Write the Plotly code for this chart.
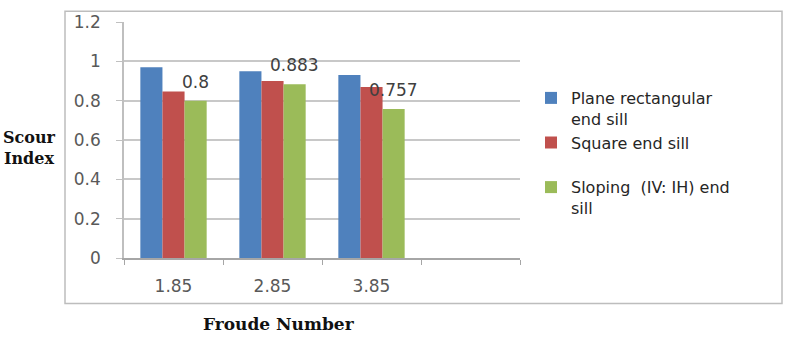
import plotly.graph_objects as go

categories = ["1.85", "2.85", "3.85", " "]
series_names = ["Plane rectangular<br>end sill", "Square end sill<br> ", "Sloping  (IV: IH) end<br>sill"]
plane_vals = [0.97, 0.95, 0.93]
square_vals = [0.847, 0.90, 0.87]
sloping_vals = [0.80, 0.883, 0.757]
sloping_labels = ["0.8", "0.883", "0.757"]
colors = ["#4F81BD", "#C0504D", "#9BBB59"]
y_ticks = [0, 0.2, 0.4, 0.6, 0.8, 1, 1.2]
y_tick_text = ["0", "0.2", "0.4", "0.6", "0.8", "1", "1.2"]

tick_font = dict(family="DejaVu Sans", size=17, color="#595959")

fig = go.Figure()
fig.add_trace(go.Bar(x=categories[:3], y=plane_vals, name=series_names[0],
                     marker=dict(color=colors[0], line=dict(width=0))))
fig.add_trace(go.Bar(x=categories[:3], y=square_vals, name=series_names[1],
                     marker=dict(color=colors[1], line=dict(width=0))))
fig.add_trace(go.Bar(x=categories[:3], y=sloping_vals, name=series_names[2],
                     marker=dict(color=colors[2], line=dict(width=0))))

W, H = 788, 342
L, R, T, B = 124, 268, 14, 84
pw, ph = W - L - R, H - T - B
BARGAP = 0.33

def px_x(x):
    return (x - L) / pw

def px_y(y):
    return 1 - (y - T) / ph

# data labels on the sloping series, centred over the third bar of each group
group_w = 1 - BARGAP
bar_w = group_w / 3
label_anns = []
for i, (v, t) in enumerate(zip(sloping_vals, sloping_labels)):
    label_anns.append(dict(
        text=t, xref="x", yref="y", x=i + bar_w, y=v,
        xanchor="center", yanchor="bottom", showarrow=False, yshift=7,
        font=dict(family="DejaVu Sans", size=17, color="#404040")))

fig.update_layout(
    width=W, height=H,
    margin=dict(l=L, r=R, t=T, b=B, pad=0),
    paper_bgcolor="white", plot_bgcolor="white",
    barmode="group", bargap=BARGAP, bargroupgap=0,
    showlegend=True,
    legend=dict(x=px_x(531), y=px_y(75), xanchor="left", yanchor="top",
                valign="top", font=dict(family="DejaVu Sans", size=16, color="#262626"),
                tracegroupgap=0, itemwidth=30, bgcolor="rgba(0,0,0,0)"),
    xaxis=dict(type="category", categoryorder="array", categoryarray=categories,
               range=[-0.5, 3.5], tickson="boundaries", ticks="outside", ticklen=5,
               tickcolor="#A6A6A6", showline=True, linecolor="#A6A6A6", linewidth=1.5,
               showgrid=False, tickfont=tick_font, ticklabelstandoff=12, fixedrange=True),
    yaxis=dict(range=[0, 1.2], tickvals=y_ticks, ticktext=y_tick_text,
               ticks="outside", ticklen=6, tickcolor="#C0C0C0",
               showline=True, linecolor="#BFBFBF", linewidth=1.5,
               showgrid=True, gridcolor="#C8C8C8", gridwidth=1.5, zeroline=False,
               tickfont=tick_font, ticklabelstandoff=12, fixedrange=True),
    shapes=[dict(type="rect", xref="paper", yref="paper",
                 x0=px_x(65), x1=px_x(782), y0=px_y(305), y1=px_y(3),
                 line=dict(color="#BDBDBD", width=1.5), layer="below")],
    annotations=label_anns + [
        dict(text="Scour<br>Index", xref="paper", yref="paper", x=px_x(29), y=px_y(144),
             xanchor="center", yanchor="middle", showarrow=False, align="center",
             font=dict(family="DejaVu Serif", size=16, color="#111111", weight="bold")),
        dict(text="Froude Number", xref="paper", yref="paper", x=px_x(279), y=px_y(326),
             xanchor="center", yanchor="middle", showarrow=False,
             font=dict(family="DejaVu Serif", size=17, color="#111111", weight="bold")),
    ],
)

fig.write_html("out.html")
